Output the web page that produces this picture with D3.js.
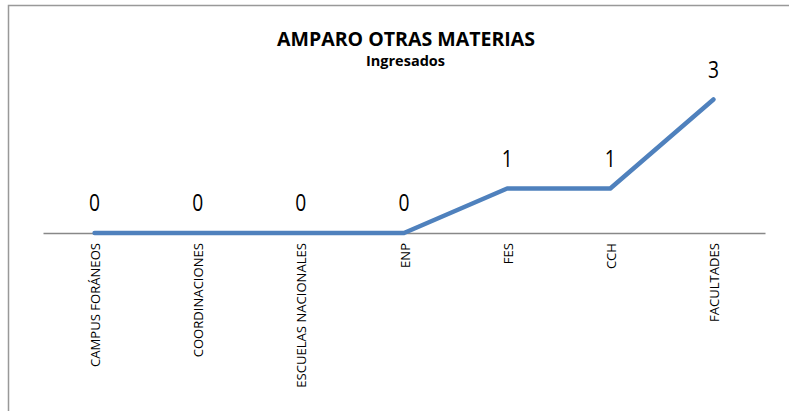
<!DOCTYPE html>
<html><head><meta charset="utf-8">
<script src="https://cdnjs.cloudflare.com/ajax/libs/d3/7.8.5/d3.min.js"></script>
<style>body{margin:0;background:#fff}svg{display:block}</style>
</head><body>
<script>
const categories = ["CAMPUS FORÁNEOS","COORDINACIONES","ESCUELAS NACIONALES","ENP","FES","CCH","FACULTADES"];
const values = [0,0,0,0,1,1,3];
const title = "AMPARO OTRAS MATERIAS";
const subtitle = "Ingresados";

const W = 789, H = 411;
const svg = d3.select("body").append("svg").attr("width", W).attr("height", H);
const font = "'Open Sans', sans-serif";

svg.append("rect").attr("x", 8.5).attr("y", 5.5).attr("width", W + 20).attr("height", H + 20)
  .attr("fill", "#fff").attr("stroke", "#999").attr("stroke-width", 1.5);

const x = d3.scaleBand().domain(categories).range([43, 765]);
const y = d3.scaleLinear().domain([0, 3]).range([233, 99.5]);

svg.append("text").attr("x", 406).attr("y", 46).attr("text-anchor", "middle")
  .attr("font-family", font).attr("font-weight", "bold").attr("font-size", 19.5)
  .attr("textLength", 258).attr("lengthAdjust", "spacingAndGlyphs")
  .attr("fill", "#000").text(title);
svg.append("text").attr("x", 405.5).attr("y", 65.5).attr("text-anchor", "middle")
  .attr("font-family", font).attr("font-weight", "bold").attr("font-size", 14)
  .attr("textLength", 79).attr("lengthAdjust", "spacingAndGlyphs")
  .attr("fill", "#000").text(subtitle);

const axis = d3.axisBottom(x).tickSize(0).tickPadding(0);
const g = svg.append("g").attr("transform", "translate(0,233)").call(axis);
g.select(".domain").attr("stroke", "#888").attr("stroke-width", 1.5);
const ticks = g.selectAll(".tick text")
  .attr("font-family", font).attr("font-size", 13).attr("fill", "#000")
  .attr("transform", "rotate(-90)")
  .attr("text-anchor", "end").attr("x", -10).attr("y", 1).attr("dy", "0.35em");
// condense tick labels so the longest matches the reference length
const ref = ticks.filter(d => d === categories[0]).node().getComputedTextLength();
const k = 124 / ref;
ticks.each(function() {
  const L = this.getComputedTextLength();
  d3.select(this).attr("textLength", L * k).attr("lengthAdjust", "spacingAndGlyphs");
});

const cx = d => x(d) + x.bandwidth() / 2;
const data = categories.map((c, i) => ({c, v: values[i]}));
svg.append("path").datum(data)
  .attr("d", d3.line().x(d => cx(d.c)).y(d => y(d.v)))
  .attr("fill", "none").attr("stroke", "#4F81BD").attr("stroke-width", 4.5)
  .attr("stroke-linecap", "round").attr("stroke-linejoin", "round");

svg.selectAll(".lbl").data(data).enter().append("text")
  .attr("x", d => cx(d.c)).attr("y", d => y(d.v) - 22)
  .attr("text-anchor", "middle").attr("font-family", font).attr("font-size", 23)
  .attr("textLength", 11).attr("lengthAdjust", "spacingAndGlyphs")
  .attr("fill", "#000").text(d => d.v);
</script>
</body></html>
